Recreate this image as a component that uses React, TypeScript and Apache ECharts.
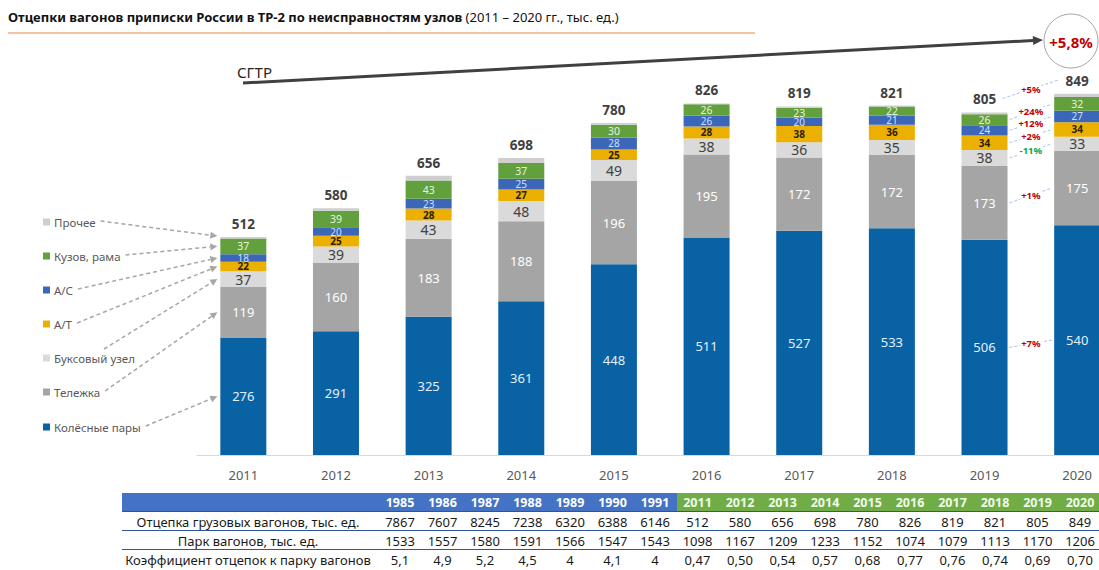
import React, { useEffect, useRef } from "react";
import * as echarts from "echarts";

const years = ["2011", "2012", "2013", "2014", "2015", "2016", "2017", "2018", "2019", "2020"];
const wheelsets = [276, 291, 325, 361, 448, 511, 527, 533, 506, 540];
const bogie = [119, 160, 183, 188, 196, 195, 172, 172, 173, 175];
const axleBox = [37, 39, 43, 48, 49, 38, 36, 35, 38, 33];
const autoBrake = [22, 25, 28, 27, 25, 28, 38, 36, 34, 34];
const autoCoupler = [18, 20, 23, 25, 28, 26, 20, 21, 24, 27];
const carBody = [37, 39, 43, 37, 30, 26, 23, 22, 26, 32];
const other = [3, 6, 11, 12, 4, 2, 3, 2, 4, 8];
const totals = [512, 580, 656, 698, 780, 826, 819, 821, 805, 849];

const changePct = ["+7%", "+1%", "-11%", "+2%", "+12%", "+24%"];
const totalChange = "+5%";
const cagrText = "+5,8%";
const cagrLabel = "СГТР";

const tableYears = ["1985", "1986", "1987", "1988", "1989", "1990", "1991", "2011", "2012", "2013", "2014", "2015", "2016", "2017", "2018", "2019", "2020"];
const rowUncoupling = ["7867", "7607", "8245", "7238", "6320", "6388", "6146", "512", "580", "656", "698", "780", "826", "819", "821", "805", "849"];
const rowFleet = ["1533", "1557", "1580", "1591", "1566", "1547", "1543", "1098", "1167", "1209", "1233", "1152", "1074", "1079", "1113", "1170", "1206"];
const rowRatio = ["5,1", "4,9", "5,2", "4,5", "4", "4,1", "4", "0,47", "0,50", "0,54", "0,57", "0,68", "0,77", "0,76", "0,74", "0,69", "0,70"];
const rowLabels = ["Отцепка грузовых вагонов, тыс. ед.", "Парк вагонов, тыс. ед.", "Коэффициент отцепок к парку вагонов"];

const FONT = "'Noto Sans', sans-serif";

const seriesDefs = [
  { name: "Колёсные пары", data: wheelsets, color: "#0862A4", labelColor: "#E4F0FB", size: 13 },
  { name: "Тележка", data: bogie, color: "#A5A5A5", labelColor: "#FFFFFF", size: 13 },
  { name: "Буксовый узел", data: axleBox, color: "#DADADA", labelColor: "#404040", size: 14 },
  { name: "А/Т", data: autoBrake, color: "#ECB000", labelColor: "#2B1F00", size: 10 },
  { name: "А/С", data: autoCoupler, color: "#3C66B8", labelColor: "#CFE0FF", size: 10 },
  { name: "Кузов, рама", data: carBody, color: "#62A03E", labelColor: "#E6F5DC", size: 10.5 },
  { name: "Прочее", data: other, color: "#CFCFCF", labelColor: "#404040", size: 10 },
];

function arrow(x1: number, y1: number, x2: number, y2: number, color: string, lw: number, L: number, W: number, dash?: number[]) {
  const dx = x2 - x1, dy = y2 - y1;
  const len = Math.sqrt(dx * dx + dy * dy);
  const ux = dx / len, uy = dy / len;
  const bx = x2 - L * ux, by = y2 - L * uy;
  const nx = -uy, ny = ux;
  return [
    { type: "line", silent: true, shape: { x1, y1, x2: bx, y2: by }, style: { stroke: color, lineWidth: lw, lineDash: dash || null } },
    { type: "polygon", silent: true, shape: { points: [[x2, y2], [bx + W * nx, by + W * ny], [bx - W * nx, by - W * ny]] }, style: { fill: color } },
  ];
}

export default function App() {
  const ref = useRef<HTMLDivElement>(null);
  useEffect(() => {
    if (!ref.current) return;
    const chart = echarts.init(ref.current, null, { renderer: "svg" });
    const series: any[] = seriesDefs.map((s, idx) => ({
      type: "bar",
      name: s.name,
      stack: "t",
      data: s.data,
      barWidth: 46,
      itemStyle: { color: s.color },
      label: idx === 6
        ? { show: true, position: "top", distance: 6, formatter: (p: any) => String(totals[p.dataIndex]), color: "#404040", fontWeight: "bold", fontSize: 13.5, fontFamily: FONT }
        : { show: true, position: "inside", color: s.labelColor, fontSize: s.size, lineHeight: s.size, fontFamily: FONT, fontWeight: idx === 3 ? "bold" : "normal" },
    }));
    chart.setOption({
      animation: false,
      textStyle: { fontFamily: FONT },
      grid: { left: 197, right: 6.5, top: 72, bottom: 115 },
      xAxis: {
        type: "category",
        data: years,
        axisLine: { lineStyle: { color: "#D9D9D9" } },
        axisTick: { show: false },
        axisLabel: { color: "#595959", fontSize: 13, margin: 13, fontFamily: FONT },
      },
      yAxis: { type: "value", min: 0, max: 900, show: false, splitLine: { show: false } },
      series,
    });

    const px = (i: number, v: number) => chart.convertToPixel({ gridIndex: 0 }, [i, v]) as number[];
    const g: any[] = [];

    // Title
    g.push({
      type: "text", x: 8, y: 17, silent: true,
      style: {
        text: "{b|Отцепки вагонов приписки России в ТР-2 по неисправностям узлов} {n|(2011 – 2020 гг., тыс. ед.)}",
        verticalAlign: "middle",
        rich: {
          b: { fontFamily: FONT, fontWeight: "bold", fontSize: 13, fill: "#111" },
          n: { fontFamily: FONT, fontSize: 13, fill: "#111" },
        },
      },
    });
    g.push({ type: "line", silent: true, shape: { x1: 8, y1: 33, x2: 755, y2: 33 }, style: { stroke: "#F4B183", lineWidth: 1.5 } });

    // CAGR arrow
    g.push({ type: "text", x: 237, y: 72, silent: true, style: { text: cagrLabel, fontFamily: FONT, fontSize: 15, fill: "#262626", verticalAlign: "middle" } });
    g.push(...arrow(243, 83, 1043, 40, "#404040", 3, 10, 4.5));
    g.push({ type: "circle", silent: true, shape: { cx: 1071, cy: 41, r: 27 }, style: { fill: "#fff", stroke: "#A6A6A6", lineWidth: 1 } });
    g.push({ type: "text", x: 1071, y: 42, silent: true, style: { text: cagrText, fontFamily: FONT, fontSize: 15, fontWeight: "bold", fill: "#C00000", align: "center", verticalAlign: "middle" } });

    // Legend with arrows to 2011 bar
    const ctx = document.createElement("canvas").getContext("2d")!;
    ctx.font = `11.5px ${FONT}`;
    const legendOrder = [6, 5, 4, 3, 2, 1, 0];
    const legendY = [222, 256, 290, 324, 358, 392, 427];
    const barLeft2011 = px(0, 0)[0] - 23 - 3;
    legendOrder.forEach((si, k) => {
      const s = seriesDefs[si];
      const y = legendY[k];
      g.push({ type: "rect", silent: true, shape: { x: 43, y: y - 3.5, width: 7, height: 7 }, style: { fill: s.color } });
      g.push({ type: "text", x: 54, y, silent: true, style: { text: s.name, fontFamily: FONT, fontSize: 11.5, fill: "#595959", verticalAlign: "middle" } });
      const w = ctx.measureText(s.name).width;
      let base = 0;
      for (let j = 0; j < si; j++) base += seriesDefs[j].data[0];
      const ty = si === 6 ? px(0, totals[0])[1] - 1 : px(0, base + s.data[0] / 2)[1];
      let sx = 54 + w + 5, sy = y - 1;
      if (si === 2) { sx = 104; sy = y - 9; }
      g.push(...arrow(sx, sy, barLeft2011, ty, "#A6A6A6", 1.5, 7, 3.5, [4, 3]));
    });

    // Percent changes 2019 -> 2020
    const dashColor = "#8FB4DE";
    let b19 = 0, b20 = 0;
    changePct.forEach((t, k) => {
      const s = seriesDefs[k];
      const p1 = px(8, b19 + s.data[8] / 2);
      const p2 = px(9, b20 + s.data[9] / 2);
      b19 += s.data[8];
      b20 += s.data[9];
      const x1 = p1[0] + 25, x2 = p2[0] - 25;
      g.push({ type: "line", silent: true, shape: { x1, y1: p1[1], x2, y2: p2[1] }, style: { stroke: dashColor, lineWidth: 0.8, lineDash: [3, 2] } });
      g.push({
        type: "text", x: (x1 + x2) / 2, y: (p1[1] + p2[1]) / 2, silent: true,
        style: { text: t, fontFamily: FONT, fontSize: 9.5, fontWeight: "bold", fill: t.startsWith("-") ? "#00A651" : "#C00000", align: "center", verticalAlign: "middle", backgroundColor: "#fff", padding: [0, 1] },
      });
    });
    {
      const p1 = px(8, totals[8]);
      const p2 = px(9, totals[9]);
      const x1 = p1[0] + 18, y1 = p1[1] - 14, x2 = p2[0] - 18, y2 = p2[1] - 14;
      g.push({ type: "line", silent: true, shape: { x1, y1, x2, y2 }, style: { stroke: dashColor, lineWidth: 0.8, lineDash: [3, 2] } });
      g.push({
        type: "text", x: (x1 + x2) / 2, y: (y1 + y2) / 2, silent: true,
        style: { text: totalChange, fontFamily: FONT, fontSize: 9.5, fontWeight: "bold", fill: "#C00000", align: "center", verticalAlign: "middle", backgroundColor: "#fff", padding: [0, 1] },
      });
    }

    // Table
    const colX = (i: number) => 400 + i * 42.5;
    const tLeft = 122, tRight = 1130;
    const headTop = 493, headH = 18.5, rowH = 19;
    g.push({ type: "rect", silent: true, shape: { x: tLeft, y: headTop, width: 677 - tLeft, height: headH }, style: { fill: "#4472C4" } });
    g.push({ type: "rect", silent: true, shape: { x: 677, y: headTop, width: tRight - 677, height: headH }, style: { fill: "#70AD47" } });
    tableYears.forEach((yv, i) => {
      g.push({ type: "text", x: colX(i), y: headTop + headH / 2 + 0.5, silent: true, style: { text: yv, fontFamily: FONT, fontSize: 12.5, fontWeight: "bold", fill: i < 7 ? "#FFFFFF" : "#F2FAEC", align: "center", verticalAlign: "middle" } });
    });
    const rows = [rowUncoupling, rowFleet, rowRatio];
    rows.forEach((row, r) => {
      const top = headTop + headH + r * rowH;
      g.push({ type: "line", silent: true, shape: { x1: tLeft, y1: top, x2: tRight, y2: top }, style: { stroke: "#2F5597", lineWidth: 1 } });
      const cy = top + rowH / 2 + 0.5;
      g.push({ type: "text", x: 248, y: cy, silent: true, style: { text: rowLabels[r], fontFamily: FONT, fontSize: 13, fill: "#1A1A1A", align: "center", verticalAlign: "middle" } });
      row.forEach((v, i) => {
        g.push({ type: "text", x: colX(i), y: cy, silent: true, style: { text: v, fontFamily: FONT, fontSize: 13, fill: "#1A1A1A", align: "center", verticalAlign: "middle" } });
      });
    });

    chart.setOption({ graphic: g });
    return () => chart.dispose();
  }, []);

  return (
    <div style={{ position: "fixed", left: 0, top: 0, width: 1099, height: 570, overflow: "hidden", background: "#fff" }}>
      <div ref={ref} style={{ width: 1130, height: 570 }} />
    </div>
  );
}
